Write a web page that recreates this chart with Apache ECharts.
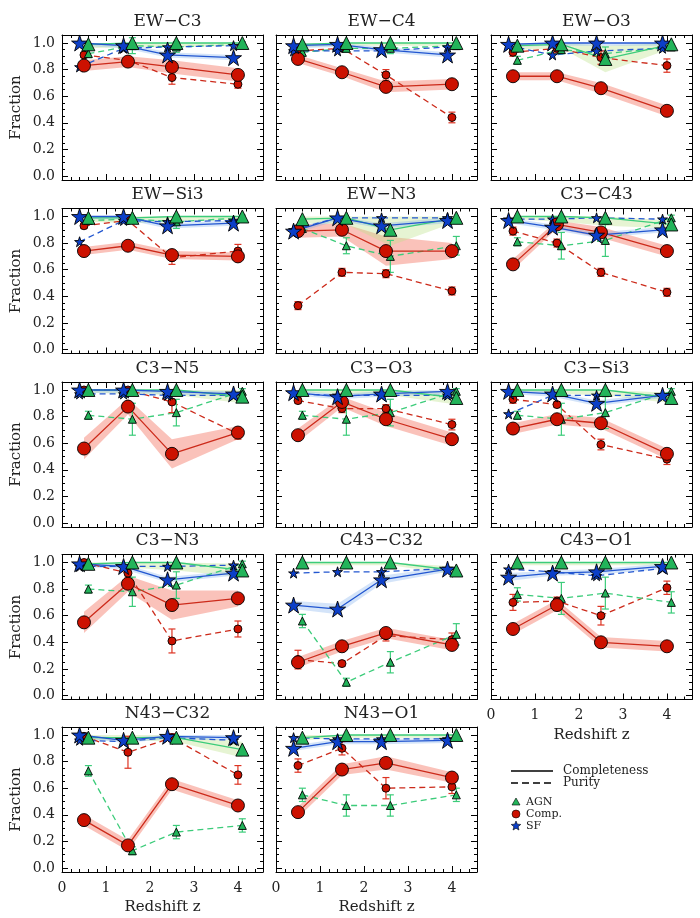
<!DOCTYPE html>
<html><head><meta charset="utf-8">
<script src="https://cdn.jsdelivr.net/npm/echarts@6/dist/echarts.min.js"></script>
<style>html,body{margin:0;padding:0;background:#fff}#c{width:700px;height:918px}</style>
</head><body><div id="c"></div>
<script>
const panelNames = ['EW\u2212C3','EW\u2212C4','EW\u2212O3','EW\u2212Si3','EW\u2212N3','C3\u2212C43','C3\u2212N5','C3\u2212O3','C3\u2212Si3','C3\u2212N3','C43\u2212C32','C43\u2212O1','N43\u2212C32','N43\u2212O1'];
const zComp = [0.5, 1.5, 2.5, 4.0];
const zAgn = [0.6, 1.6, 2.6, 4.1];
const zSf = [0.4, 1.4, 2.4, 3.9];
const xTicks = [0, 1, 2, 3, 4];
const yTicks = [0, 0.2, 0.4, 0.6, 0.8, 1.0];

const agnCompl = [
 [0.99,1.0,1.0,1.0],[0.99,1.0,1.0,1.0],[0.98,0.99,0.88,0.99],
 [0.99,0.99,1.0,1.0],[0.98,0.99,0.90,0.99],[1.0,1.0,0.99,0.94],
 [1.0,1.0,1.0,0.95],[1.0,1.0,1.0,0.94],[1.0,1.0,1.0,0.94],
 [0.99,1.0,1.0,0.94],[1.0,1.0,1.0,0.94],[1.0,1.0,1.0,1.0],
 [0.98,0.98,0.98,0.89],[0.98,1.0,1.0,1.0]];
const agnPur = [
 [0.92,0.98,0.97,0.99],[0.93,0.96,0.96,0.98],[0.87,0.95,0.92,0.97],
 [0.97,0.98,0.96,0.99],[0.91,0.78,0.70,0.78],[0.81,0.78,0.82,0.99],
 [0.81,0.78,0.83,0.99],[0.81,0.78,0.83,0.99],[0.81,0.78,0.83,0.99],
 [0.80,0.78,0.83,0.99],[0.56,0.10,0.25,0.46],[0.76,0.73,0.77,0.70],
 [0.73,0.13,0.27,0.32],[0.55,0.47,0.47,0.55]];
const agnPurErr = [
 [0.03,0.06,0.04,0.02],[0.03,0.03,0.04,0.02],[0.03,0.03,0.05,0.02],
 [0.02,0.02,0.05,0.02],[0.03,0.06,0.12,0.07],[0.03,0.10,0.12,0.02],
 [0.03,0.12,0.10,0.02],[0.03,0.12,0.10,0.02],[0.03,0.12,0.12,0.02],
 [0.03,0.11,0.10,0.02],[0.05,0.03,0.08,0.08],[0.05,0.12,0.12,0.08],
 [0.04,0.03,0.05,0.05],[0.05,0.08,0.08,0.05]];
const compCompl = [
 [0.83,0.86,0.82,0.76],[0.88,0.78,0.67,0.69],[0.75,0.75,0.66,0.49],
 [0.74,0.78,0.71,0.70],[0.89,0.90,0.74,0.74],[0.64,0.94,0.88,0.74],
 [0.56,0.875,0.52,0.68],[0.66,0.91,0.78,0.63],[0.71,0.78,0.75,0.52],
 [0.55,0.84,0.68,0.73],[0.25,0.37,0.47,0.38],[0.50,0.68,0.40,0.37],
 [0.36,0.17,0.63,0.47],[0.42,0.74,0.79,0.68]];
const compPur = [
 [0.91,0.87,0.74,0.69],[0.94,0.96,0.76,0.44],[0.93,0.96,0.89,0.83],
 [0.93,0.97,0.69,0.74],[0.33,0.58,0.57,0.44],[0.89,0.80,0.58,0.43],
 [1.0,1.0,0.91,0.67],[0.92,0.86,0.86,0.74],[0.93,0.89,0.59,0.48],
 [1.0,0.92,0.41,0.50],[0.27,0.24,0.45,0.42],[0.70,0.71,0.60,0.81],
 [0.99,0.87,0.98,0.70],[0.77,0.90,0.60,0.61]];
const compPurErr = [
 [0.02,0.02,0.05,0.03],[0.02,0.02,0.04,0.04],[0.03,0.03,0.05,0.05],
 [0.02,0.02,0.05,0.05],[0.03,0.03,0.03,0.03],[0.03,0.03,0.03,0.03],
 [0.02,0.02,0.08,0.04],[0.02,0.03,0.03,0.04],[0.03,0.02,0.04,0.04],
 [0.02,0.03,0.09,0.06],[0.07,0.02,0.04,0.05],[0.06,0.03,0.07,0.05],
 [0.02,0.12,0.03,0.07],[0.05,0.05,0.08,0.05]];
const sfCompl = [
 [1.0,0.98,0.91,0.89],[0.98,0.99,0.95,0.91],[0.99,1.0,1.0,1.0],
 [1.0,1.0,0.93,0.95],[0.89,0.99,0.93,0.97],[0.97,0.92,0.86,0.90],
 [1.0,1.0,0.99,0.97],[0.98,0.95,0.97,0.99],[0.99,0.97,0.90,0.96],
 [0.99,0.97,0.87,0.92],[0.68,0.65,0.87,0.95],[0.89,0.92,0.93,0.97],
 [1.0,0.96,0.99,0.98],[0.90,0.95,0.95,0.96]];
const sfPur = [
 [0.82,0.96,0.97,0.98],[0.94,0.94,0.94,0.97],[0.98,0.91,0.94,0.96],
 [0.81,0.97,0.96,0.97],[0.90,0.99,0.99,0.99],[0.98,0.98,0.99,0.98],
 [0.97,0.97,0.96,0.96],[0.97,0.96,0.96,0.96],[0.82,0.96,0.96,0.96],
 [0.97,0.97,0.97,0.98],[0.92,0.93,0.93,0.955],[0.95,0.93,0.90,0.955],
 [0.96,0.95,0.98,0.96],[0.98,0.97,0.97,0.97]];
const compBand = [
 [0.04,0.04,0.05,0.05],[0.03,0.03,0.04,0.04],[0.03,0.03,0.04,0.04],
 [0.03,0.03,0.03,0.03],[0.05,0.05,0.11,0.06],[0.04,0.03,0.04,0.04],
 [0.08,0.06,0.11,0.05],[0.05,0.04,0.05,0.05],[0.04,0.04,0.04,0.04],
 [0.08,0.06,0.11,0.06],[0.04,0.04,0.04,0.04],[0.04,0.04,0.04,0.04],
 [0.04,0.04,0.04,0.04],[0.04,0.04,0.05,0.04]];
const agnBand = [
 [0.03,0.03,0.03,0.02],[0.02,0.02,0.02,0.02],[0.03,0.03,0.10,0.03],
 [0.03,0.04,0.04,0.02],[0.03,0.05,0.12,0.03],[0.02,0.04,0.06,0.03],
 [0.02,0.03,0.04,0.05],[0.02,0.03,0.04,0.05],[0.02,0.03,0.04,0.04],
 [0.02,0.04,0.06,0.05],[0.02,0.02,0.02,0.03],[0.02,0.02,0.02,0.02],
 [0.02,0.02,0.03,0.06],[0.02,0.02,0.02,0.02]];
const sfBand = [
 [0.02,0.02,0.02,0.02],[0.02,0.02,0.02,0.02],[0.02,0.02,0.02,0.02],
 [0.02,0.02,0.02,0.02],[0.02,0.02,0.02,0.02],[0.02,0.02,0.02,0.02],
 [0.02,0.02,0.02,0.02],[0.02,0.02,0.02,0.02],[0.02,0.02,0.02,0.02],
 [0.02,0.02,0.02,0.02],[0.03,0.04,0.03,0.02],[0.03,0.02,0.02,0.02],
 [0.02,0.02,0.02,0.02],[0.02,0.02,0.02,0.02]];

const FONT = 'DejaVu Serif';
const colL = [62, 276, 491], W = 201, H = 145;
const rowT = [35, 208.5, 382, 554.5, 727];
const XMAX = 4.57, YMIN = -0.03, YMAX = 1.06;
const xMinor = []; for (let k = 0; k <= 22; k++) xMinor.push(+(k * 0.2).toFixed(2));
const yMinor = []; for (let k = 0; k <= 20; k++) yMinor.push(+(k * 0.05).toFixed(2));

const RED = '#cc1100', RED_L = '#cc2a1a', GRN = '#22b45a', GRN_L = '#3ccc7a', BLU = '#0c3fc8', BLU_L = '#2256d0';
const STAR = 'path://M50,0 L61.8,35.1 L98.9,35.1 L69.1,56.7 L80.3,91.9 L50,70.2 L19.7,91.9 L30.9,56.7 L1.1,35.1 L38.2,35.1 Z';

const grids = [], xAxes = [], yAxes = [], series = [], titles = [];
const blk = {color: '#000', width: 1};

panelNames.forEach((name, i) => {
  const col = i % 3, row = Math.floor(i / 3);
  const left = colL[col], top = rowT[row];
  grids.push({left: left, top: top, width: W, height: H, containLabel: false});
  titles.push({text: name, left: left + W / 2, top: top - 27, textAlign: 'center',
    textStyle: {fontFamily: FONT, fontWeight: 'normal', fontSize: 17, color: '#222'}});
  const showX = (i >= 12 || i === 11), showY = col === 0;
  const base = {gridIndex: i, type: 'value', splitLine: {show: false}};
  // x axes
  xAxes.push(Object.assign({}, base, {min: 0, max: XMAX, position: 'bottom',
    axisLine: {show: true, onZero: false, lineStyle: blk},
    axisTick: {show: true, inside: true, length: 6, customValues: xTicks, lineStyle: blk},
    axisLabel: {show: showX, customValues: xTicks, margin: 9, fontFamily: FONT, fontSize: 14, color: '#222'},
    name: showX ? 'Redshift z' : '', nameLocation: 'middle', nameGap: 28,
    nameTextStyle: {fontFamily: FONT, fontSize: 15, color: '#222'}}));
  xAxes.push(Object.assign({}, base, {min: 0, max: XMAX, position: 'bottom',
    axisLine: {show: false, onZero: false},
    axisTick: {show: true, inside: true, length: 3, customValues: xMinor, lineStyle: blk},
    axisLabel: {show: false}}));
  xAxes.push(Object.assign({}, base, {min: 0, max: XMAX, position: 'top',
    axisLine: {show: true, onZero: false, lineStyle: blk},
    axisTick: {show: true, inside: true, length: 6, customValues: xTicks, lineStyle: blk},
    axisLabel: {show: false}}));
  xAxes.push(Object.assign({}, base, {min: 0, max: XMAX, position: 'top',
    axisLine: {show: false, onZero: false},
    axisTick: {show: true, inside: true, length: 3, customValues: xMinor, lineStyle: blk},
    axisLabel: {show: false}}));
  // y axes
  yAxes.push(Object.assign({}, base, {min: YMIN, max: YMAX, position: 'left',
    axisLine: {show: true, onZero: false, lineStyle: blk},
    axisTick: {show: true, inside: true, length: 6, customValues: yTicks, lineStyle: blk},
    axisLabel: {show: showY, customValues: yTicks, margin: 7, fontFamily: FONT, fontSize: 14, color: '#222',
      formatter: v => Number(v).toFixed(1)},
    name: showY ? 'Fraction' : '', nameLocation: 'middle', nameGap: 38, nameRotate: 90,
    nameTextStyle: {fontFamily: FONT, fontSize: 15, color: '#222'}}));
  yAxes.push(Object.assign({}, base, {min: YMIN, max: YMAX, position: 'left',
    axisLine: {show: false, onZero: false},
    axisTick: {show: true, inside: true, length: 3, customValues: yMinor, lineStyle: blk},
    axisLabel: {show: false}}));
  yAxes.push(Object.assign({}, base, {min: YMIN, max: YMAX, position: 'right',
    axisLine: {show: true, onZero: false, lineStyle: blk},
    axisTick: {show: true, inside: true, length: 6, customValues: yTicks, lineStyle: blk},
    axisLabel: {show: false}}));
  yAxes.push(Object.assign({}, base, {min: YMIN, max: YMAX, position: 'right',
    axisLine: {show: false, onZero: false},
    axisTick: {show: true, inside: true, length: 3, customValues: yMinor, lineStyle: blk},
    axisLabel: {show: false}}));

  const ax = {xAxisIndex: i * 4, yAxisIndex: i * 4, animation: false, silent: true};

  function band(xs, vals, hw, color) {
    const up = vals.map((v, k) => Math.min(1, v + hw[k]));
    const lo = vals.map((v, k) => v - hw[k]);
    return Object.assign({type: 'custom', z: 1, data: xs.map((x, k) => [x, lo[k], up[k]]),
      encode: {x: 0, y: [1, 2]},
      renderItem: (p, api) => {
        if (p.dataIndex !== 0) return null;
        const pts = [];
        xs.forEach((x, k) => pts.push(api.coord([x, up[k]])));
        for (let k = xs.length - 1; k >= 0; k--) pts.push(api.coord([xs[k], lo[k]]));
        return {type: 'polygon', shape: {points: pts}, style: {fill: color}};
      }}, ax);
  }
  function line(xs, vals, color, dashed) {
    return Object.assign({type: 'line', z: 2, data: xs.map((x, k) => [x, vals[k]]), showSymbol: false, symbol: 'none',
      lineStyle: {color: color, width: 1.3, type: dashed ? [6, 4] : 'solid'}}, ax);
  }
  function errs(xs, vals, e, color) {
    return Object.assign({type: 'custom', z: 3, data: xs.map((x, k) => [x, vals[k] - e[k], vals[k] + e[k]]),
      encode: {x: 0, y: [1, 2]},
      renderItem: (p, api) => {
        const x = api.value(0);
        const a = api.coord([x, api.value(1)]), b = api.coord([x, api.value(2)]), c = 3.5;
        const st = {stroke: color, lineWidth: 1.2};
        return {type: 'group', children: [
          {type: 'line', shape: {x1: a[0], y1: a[1], x2: b[0], y2: b[1]}, style: st},
          {type: 'line', shape: {x1: a[0] - c, y1: a[1], x2: a[0] + c, y2: a[1]}, style: st},
          {type: 'line', shape: {x1: b[0] - c, y1: b[1], x2: b[0] + c, y2: b[1]}, style: st}]};
      }}, ax);
  }
  function marks(xs, vals, symbol, size, color, z) {
    return Object.assign({type: 'scatter', z: z, data: xs.map((x, k) => [x, vals[k]]), symbol: symbol, symbolSize: size,
      itemStyle: {color: color, borderColor: '#000', borderWidth: 0.9, opacity: 1}}, ax);
  }

  series.push(band(zComp, compCompl[i], compBand[i], 'rgba(242,110,90,0.42)'));
  series.push(band(zAgn, agnCompl[i], agnBand[i], 'rgba(190,225,140,0.38)'));
  series.push(band(zSf, sfCompl[i], sfBand[i], 'rgba(120,170,235,0.32)'));
  series.push(line(zComp, compPur[i], RED_L, true));
  series.push(line(zAgn, agnPur[i], GRN_L, true));
  series.push(line(zSf, sfPur[i], BLU_L, true));
  series.push(line(zComp, compCompl[i], RED_L, false));
  series.push(line(zAgn, agnCompl[i], GRN_L, false));
  series.push(line(zSf, sfCompl[i], BLU_L, false));
  series.push(errs(zComp, compPur[i], compPurErr[i], '#dd3322'));
  series.push(errs(zAgn, agnPur[i], agnPurErr[i], GRN_L));
  series.push(marks(zComp, compPur[i], 'circle', 8, RED, 4));
  series.push(marks(zSf, sfPur[i], STAR, 10, BLU, 4));
  series.push(marks(zAgn, agnPur[i], 'triangle', 8, GRN, 4));
  series.push(marks(zComp, compCompl[i], 'circle', 13, RED, 5));
  series.push(marks(zSf, sfCompl[i], STAR, 16, BLU, 5));
  series.push(marks(zAgn, agnCompl[i], 'triangle', 13, GRN, 5));
});

function starPts(cx, cy, r) {
  const p = [];
  for (let k = 0; k < 10; k++) {
    const a = -Math.PI / 2 + k * Math.PI / 5, rr = k % 2 ? r * 0.45 : r;
    p.push([cx + rr * Math.cos(a), cy + rr * Math.sin(a)]);
  }
  return p;
}
const lf = '12px "DejaVu Serif"';
const graphic = [
  {type: 'line', shape: {x1: 511, y1: 771, x2: 553, y2: 771}, style: {stroke: '#000', lineWidth: 1.5}},
  {type: 'text', x: 563, y: 771, style: {text: 'Completeness', font: lf, fill: '#222', verticalAlign: 'middle'}},
  {type: 'line', shape: {x1: 511, y1: 783, x2: 553, y2: 783}, style: {stroke: '#000', lineWidth: 1.5, lineDash: [7, 4]}},
  {type: 'text', x: 563, y: 783, style: {text: 'Purity', font: lf, fill: '#222', verticalAlign: 'middle'}},
  {type: 'polygon', shape: {points: [[516, 798], [520, 805], [512, 805]]}, style: {fill: GRN, stroke: '#000', lineWidth: 0.6}},
  {type: 'text', x: 526, y: 802, style: {text: 'AGN', font: '11px "DejaVu Serif"', fill: '#222', verticalAlign: 'middle'}},
  {type: 'circle', shape: {cx: 516, cy: 814, r: 4}, style: {fill: RED, stroke: '#000', lineWidth: 0.6}},
  {type: 'text', x: 526, y: 814, style: {text: 'Comp.', font: '11px "DejaVu Serif"', fill: '#222', verticalAlign: 'middle'}},
  {type: 'polygon', shape: {points: starPts(516, 826, 5)}, style: {fill: BLU, stroke: '#000', lineWidth: 0.6}},
  {type: 'text', x: 526, y: 826, style: {text: 'SF', font: '11px "DejaVu Serif"', fill: '#222', verticalAlign: 'middle'}}
];

const chart = echarts.init(document.getElementById('c'), null, {renderer: 'canvas'});
chart.setOption({
  animation: false,
  backgroundColor: '#fff',
  title: titles,
  grid: grids,
  xAxis: xAxes,
  yAxis: yAxes,
  series: series,
  graphic: graphic
});
</script></body></html>
